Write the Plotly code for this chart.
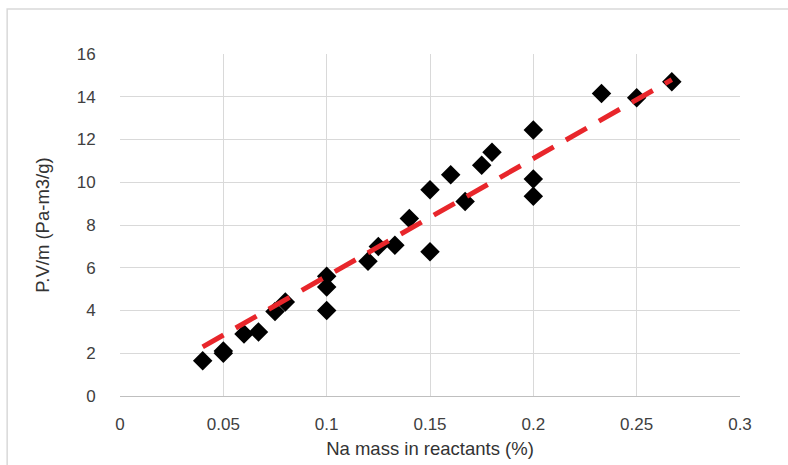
import plotly.graph_objects as go

na_mass = [0.04, 0.05, 0.05, 0.06, 0.067, 0.075, 0.08, 0.1, 0.1, 0.1, 0.12, 0.125,
           0.133, 0.14, 0.15, 0.15, 0.16, 0.167, 0.175, 0.18, 0.2, 0.2, 0.2,
           0.233, 0.25, 0.267]
pvm = [1.65, 2.0, 2.1, 2.9, 3.0, 3.95, 4.4, 5.6, 5.1, 4.0, 6.3, 7.0,
       7.05, 8.3, 9.65, 6.75, 10.35, 9.1, 10.8, 11.4, 12.45, 10.15, 9.35,
       14.15, 13.95, 14.7]

# linear trendline endpoints
trend_x = [0.04, 0.267]
trend_y = [2.3, 14.8]

x_ticks = [0, 0.05, 0.1, 0.15, 0.2, 0.25, 0.3]
x_tick_text = ["0", "0.05", "0.1", "0.15", "0.2", "0.25", "0.3"]
y_ticks = [0, 2, 4, 6, 8, 10, 12, 14, 16]

font = "Liberation Sans, Arial"
fig = go.Figure()
fig.add_trace(go.Scatter(x=na_mass, y=pvm, mode="markers",
                         marker=dict(symbol="diamond", color="black", size=15),
                         showlegend=False))
fig.add_trace(go.Scatter(x=trend_x, y=trend_y, mode="lines",
                         line=dict(color="#e8262b", width=5, dash="24px,14px"),
                         showlegend=False))

fig.update_layout(
    width=788, height=465,
    margin=dict(l=120, r=48, t=54, b=69, autoexpand=False),
    paper_bgcolor="white", plot_bgcolor="white",
    font=dict(family=font, size=17, color="#404040"),
    xaxis=dict(range=[0, 0.3], tickvals=x_ticks, ticktext=x_tick_text,
               showgrid=True, gridcolor="#d9d9d9", gridwidth=1,
               showline=True, linecolor="#bfbfbf", linewidth=1,
               ticks="outside", ticklen=13, tickcolor="rgba(0,0,0,0)",
               zeroline=False, automargin=False,
               title=dict(text="Na mass in reactants (%)", font=dict(size=18.5, color="#333333"), standoff=8)),
    yaxis=dict(range=[0, 16], tickvals=y_ticks,
               showgrid=True, gridcolor="#d9d9d9", gridwidth=1,
               showline=False, zeroline=False, automargin=False,
               ticks="outside", ticklen=20, tickcolor="rgba(0,0,0,0)",
               title=dict(text="P.V/m (Pa-m3/g)", font=dict(size=18.5, color="#333333"), standoff=22)),
    shapes=[dict(type="rect", xref="paper", yref="paper",
                 x0=-0.182, x1=1.2, y0=-0.4, y1=1.1316,
                 line=dict(color="#d9d9d9", width=1.5), layer="below")],
)

fig.write_html("out.html", config={"displayModeBar": False},
               post_script="document.body.style.margin='0px';document.body.style.overflow='hidden';")
